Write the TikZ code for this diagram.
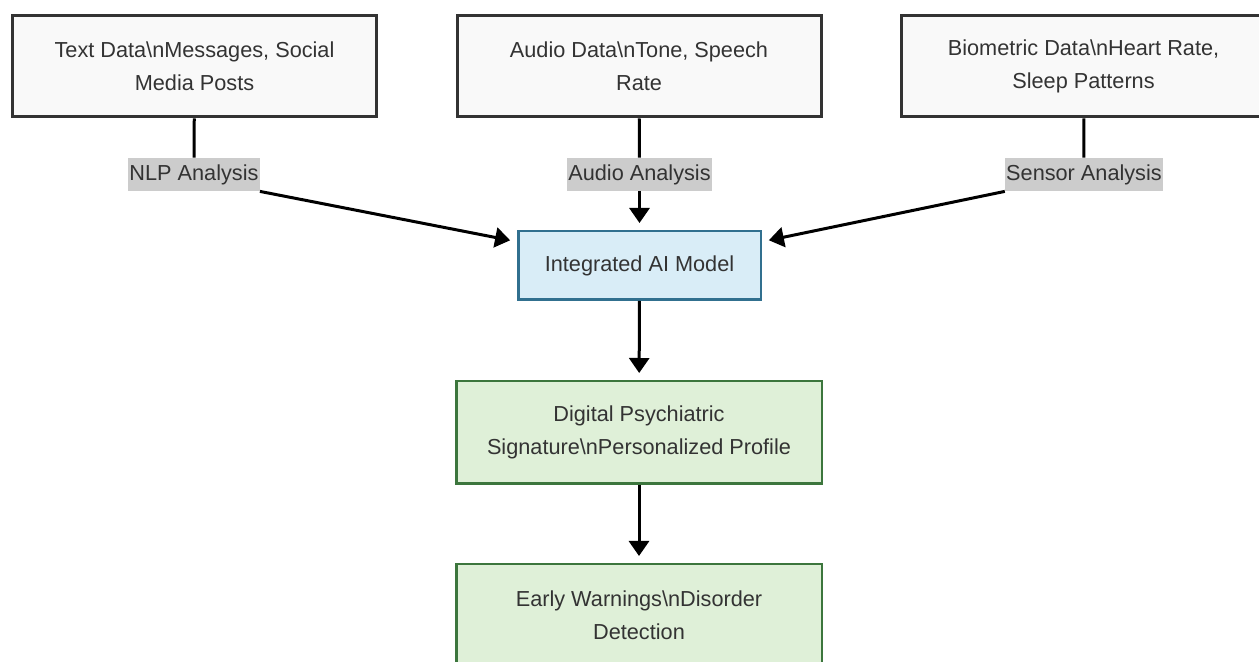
\documentclass[tikz,border=0pt]{standalone}
\usepackage{fontspec}
\setmainfont{Liberation Sans}
\usepackage{tikz}
\usepackage{xcolor}
\usetikzlibrary{arrows.meta}

\definecolor{txtgray}{HTML}{333333}
\definecolor{srcfill}{HTML}{F9F9F9}
\definecolor{srcdraw}{HTML}{333333}
\definecolor{aifill}{HTML}{D9EDF7}
\definecolor{aidraw}{HTML}{31708F}
\definecolor{outfill}{HTML}{DFF0D8}
\definecolor{outdraw}{HTML}{3C763D}
\definecolor{lblfill}{HTML}{CCCCCC}

\begin{document}
\begin{tikzpicture}[x=0.5pt, y=-0.5pt,
    txt/.style={text=txtgray, align=center, inner sep=0pt,
        font=\fontsize{10.85}{16.5}\selectfont},
    srcbox/.style={txt, draw=srcdraw, fill=srcfill, line width=1.5pt,
        minimum width=182pt, minimum height=50.5pt},
    aibox/.style={txt, draw=aidraw, fill=aifill, line width=1.25pt,
        minimum width=121.25pt, minimum height=34.25pt},
    outbox/.style={txt, draw=outdraw, fill=outfill, line width=1.25pt,
        minimum width=182.75pt, minimum height=51.25pt},
    lbl/.style={txt, fill=lblfill, minimum height=16.5pt, inner xsep=0.5pt},
    link/.style={line width=1.5pt, black},
    flow/.style={link, -{Triangle[length=7.5pt, width=10pt]}, shorten >=3.5pt}]
    %% 画布范围
    \clip (0, 0) rectangle (1259, 662);

    %% 三个数据源
    \node[srcbox] (text) at (194.5, 66.5) {Text Data\textbackslash nMessages, Social\\Media Posts};
    \node[srcbox] (audio) at (639, 66.5) {Audio Data\textbackslash nTone, Speech\\Rate};
    \node[srcbox] (bio) at (1083.5, 66.5) {Biometric Data\textbackslash nHeart Rate,\\Sleep Patterns};

    %% 分析标签
    \node[lbl] (nlp) at (194, 174.5) {NLP Analysis};
    \node[lbl] (aud) at (639.5, 174.5) {Audio Analysis};
    \node[lbl] (sen) at (1084, 174.5) {Sensor Analysis};

    %% 模型与输出
    \node[aibox] (ai) at (639.5, 265.5) {Integrated AI Model};
    \node[outbox] (sig) at (639, 432.5) {Digital Psychiatric\\Signature\textbackslash nPersonalized Profile};
    \node[outbox] (warn) at (639, 615.5) {Early Warnings\textbackslash nDisorder\\Detection};

    %% 连线
    \draw[link] (text) -- (nlp);
    \draw[link] (audio) -- (aud);
    \draw[link] (bio) -- (sen);
    \draw[flow] (nlp.south east) -- (ai.169);
    \draw[flow] (aud) -- (ai);
    \draw[flow] (sen.south west) -- (ai.11);
    \draw[flow] (ai) -- (sig);
    \draw[flow] (sig) -- (warn);
\end{tikzpicture}
\end{document}
